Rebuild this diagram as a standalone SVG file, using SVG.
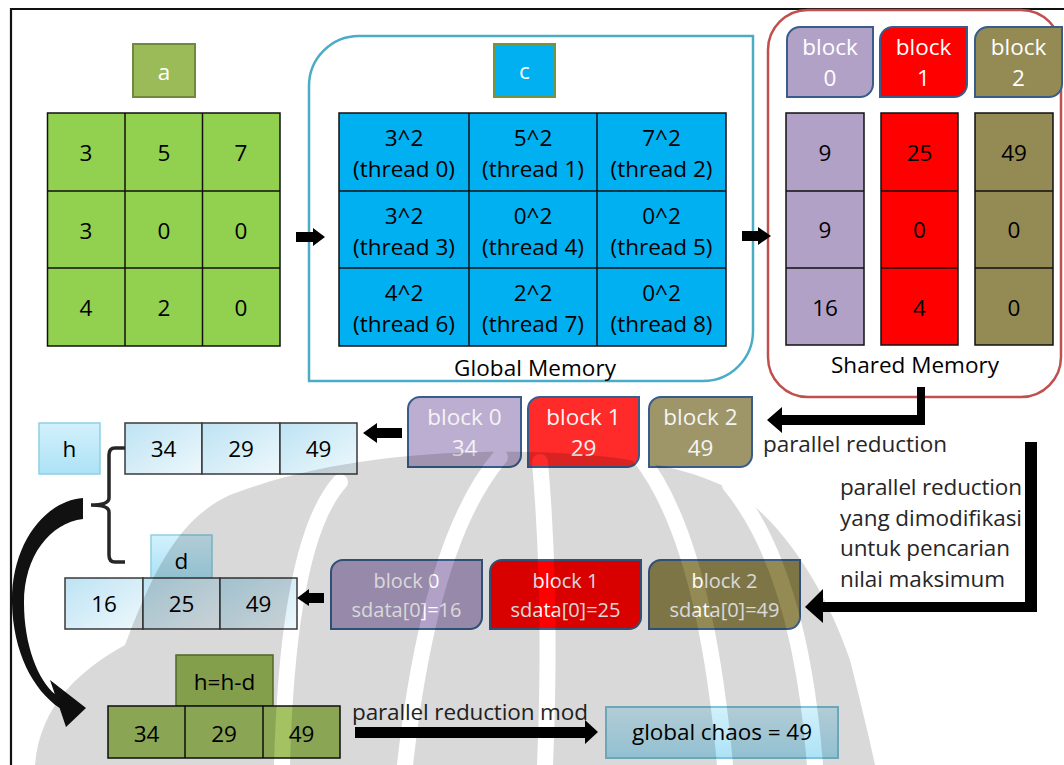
<svg xmlns="http://www.w3.org/2000/svg" width="1064" height="765" viewBox="0 0 1064 765">
  <defs>
    <linearGradient id="ice" x1="0" y1="0" x2="1" y2="1">
      <stop offset="0" stop-color="#bde3f3"/>
      <stop offset="1" stop-color="#eef8fc"/>
    </linearGradient>
    <linearGradient id="iceTag" x1="0" y1="0" x2="0" y2="1">
      <stop offset="0" stop-color="#d2f1fc"/>
      <stop offset="1" stop-color="#ace2f6"/>
    </linearGradient>
    <!-- background emblem: rounded body cut by curved ribs -->
    <mask id="emblem-mask" maskUnits="userSpaceOnUse" x="0" y="0" width="1064" height="765">
      <path d="M35 765 C40 705 80 670 125 645 C150 580 175 520 230 495 C320 460 430 450 530 452 C630 454 700 470 740 495 C790 530 830 600 850 660 C860 700 870 740 875 765 Z" fill="#fff"/>
      <g stroke="#000" stroke-width="16" fill="none" stroke-linecap="round">
        <path d="M540 462 Q552 600 545 765"/>
        <path d="M500 457 Q430 540 405 765"/>
        <path d="M340 482 Q288 540 282 765"/>
        <path d="M640 457 Q705 540 725 765"/>
        <path d="M730 485 Q800 570 815 765"/>
      </g>
    </mask>
  </defs>
  <style>
    .t { font-family: "Open Sans", "Liberation Sans", sans-serif; font-size: 22.5px; fill: #000; }
    .s { font-size: 20px; }
    .m { text-anchor: middle; }
    .w { fill: #fff; }
    .lt { fill: #f4f4f4; }
    .dk { fill: #262626; }
    .grid { stroke: #111; stroke-width: 1.5; }
    .gl { stroke: #111; stroke-width: 1.5; fill: none; }
    .blk { stroke: #385d8a; stroke-width: 2; }
    .ice { fill: url(#ice); stroke: #3a3a3a; stroke-width: 1.5; }
    .tag { fill: url(#iceTag); stroke: #8fcfe6; stroke-width: 1.5; }
    .arrow { fill: #000; }
  </style>

  <rect width="1064" height="765" fill="#fff"/>
  <!-- page frame -->
  <path d="M11 765 V9 H1064" fill="none" stroke="#111" stroke-width="2.2"/>

  <!-- input array a -->
  <g id="label-a">
    <rect x="133" y="44" width="62" height="53" fill="#9bbb59" stroke="#71893f" stroke-width="2"/>
    <text class="t m w" x="164" y="80">a</text>
  </g>
  <g id="array-a">
    <rect class="grid" x="47.5" y="113" width="232.5" height="233" fill="#92d050"/>
    <path class="gl" d="M125 113 V346 M202.5 113 V346 M47.5 191 H280 M47.5 268 H280"/>
    <g class="t m">
      <text x="86" y="161">3</text><text x="164" y="161">5</text><text x="241" y="161">7</text>
      <text x="86" y="239">3</text><text x="164" y="239">0</text><text x="241" y="239">0</text>
      <text x="86" y="316">4</text><text x="164" y="316">2</text><text x="241" y="316">0</text>
    </g>
  </g>

  <!-- global memory -->
  <g id="global-memory">
    <path d="M359 36 H753 V331 A50 50 0 0 1 703 381 H309 V86 A50 50 0 0 1 359 36 Z" fill="none" stroke="#4bacc6" stroke-width="2.5"/>
    <text class="t m" x="535" y="376" textLength="162">Global Memory</text>
  </g>
  <g id="label-c">
    <rect x="494" y="44" width="61" height="53" fill="#00b0f0" stroke="#77933c" stroke-width="2"/>
    <text class="t m w" x="524.5" y="79">c</text>
  </g>
  <g id="array-c">
    <rect class="grid" x="339" y="113" width="387" height="233" fill="#00b0f0"/>
    <path class="gl" d="M469 113 V346 M597 113 V346 M339 191 H726 M339 268 H726"/>
    <g class="t m">
      <text x="404" y="146">3^2</text><text x="404" y="177">(thread 0)</text>
      <text x="533" y="146">5^2</text><text x="533" y="177">(thread 1)</text>
      <text x="661.5" y="146">7^2</text><text x="661.5" y="177">(thread 2)</text>
      <text x="404" y="224">3^2</text><text x="404" y="255">(thread 3)</text>
      <text x="533" y="224">0^2</text><text x="533" y="255">(thread 4)</text>
      <text x="661.5" y="224">0^2</text><text x="661.5" y="255">(thread 5)</text>
      <text x="404" y="301">4^2</text><text x="404" y="332">(thread 6)</text>
      <text x="533" y="301">2^2</text><text x="533" y="332">(thread 7)</text>
      <text x="661.5" y="301">0^2</text><text x="661.5" y="332">(thread 8)</text>
    </g>
  </g>

  <!-- shared memory -->
  <g id="shared-memory">
    <rect x="768" y="10" width="293" height="387" rx="40" fill="none" stroke="#c0504d" stroke-width="2.5"/>
    <text class="t m" x="915" y="373" textLength="168">Shared Memory</text>
  </g>
  <g id="block-0">
    <path class="blk" d="M800 27 H873 V84 A13 13 0 0 1 860 97 H787 V40 A13 13 0 0 1 800 27 Z" fill="#b2a1c7"/>
    <text class="t m w" x="830" y="55">block</text>
    <text class="t m w" x="830" y="86">0</text>
    <rect class="grid" x="786" y="113" width="78" height="232" fill="#b2a1c7"/>
    <path class="gl" d="M786 191 H864 M786 268 H864"/>
    <text class="t m" x="825" y="161">9</text>
    <text class="t m" x="825" y="238">9</text>
    <text class="t m" x="825" y="316">16</text>
  </g>
  <g id="block-1">
    <path class="blk" d="M893 27 H967 V84 A13 13 0 0 1 954 97 H880 V40 A13 13 0 0 1 893 27 Z" fill="#ff0000"/>
    <text class="t m w" x="923.5" y="55">block</text>
    <text class="t m w" x="923.5" y="86">1</text>
    <rect class="grid" x="881" y="113" width="77" height="232" fill="#ff0000"/>
    <path class="gl" d="M881 191 H958 M881 268 H958"/>
    <text class="t m" x="919.5" y="161">25</text>
    <text class="t m" x="919.5" y="238">0</text>
    <text class="t m" x="919.5" y="316">4</text>
  </g>
  <g id="block-2">
    <path class="blk" d="M988 27 H1062 V84 A13 13 0 0 1 1049 97 H975 V40 A13 13 0 0 1 988 27 Z" fill="#948a54"/>
    <text class="t m w" x="1018.5" y="55">block</text>
    <text class="t m w" x="1018.5" y="86">2</text>
    <rect class="grid" x="975" y="113" width="78" height="232" fill="#948a54"/>
    <path class="gl" d="M975 191 H1053 M975 268 H1053"/>
    <text class="t m" x="1014" y="161">49</text>
    <text class="t m" x="1014" y="238">0</text>
    <text class="t m" x="1014" y="316">0</text>
  </g>

  <!-- per-block partial sums -->
  <g id="sum-block-0">
    <path class="blk" d="M420 397 H521 V455 A12 12 0 0 1 509 467 H408 V409 A12 12 0 0 1 420 397 Z" fill="#bcaed0"/>
    <text class="t m lt" x="464.5" y="425">block 0</text>
    <text class="t m lt" x="464.5" y="456">34</text>
  </g>
  <g id="sum-block-1">
    <path class="blk" d="M540 397 H639 V455 A12 12 0 0 1 627 467 H528 V409 A12 12 0 0 1 540 397 Z" fill="#ff2a2a"/>
    <text class="t m lt" x="583.5" y="425">block 1</text>
    <text class="t m lt" x="583.5" y="456">29</text>
  </g>
  <g id="sum-block-2">
    <path class="blk" d="M661 397 H752 V455 A12 12 0 0 1 740 467 H649 V409 A12 12 0 0 1 661 397 Z" fill="#9e9568"/>
    <text class="t m lt" x="700.5" y="425">block 2</text>
    <text class="t m lt" x="700.5" y="456">49</text>
  </g>

  <!-- array h -->
  <g id="label-h">
    <rect class="tag" x="39" y="423" width="61" height="51"/>
    <text class="t m" x="69.5" y="457">h</text>
  </g>
  <g id="array-h">
    <rect class="ice" x="125" y="423" width="77" height="51"/>
    <rect class="ice" x="202" y="423" width="78" height="51"/>
    <rect class="ice" x="280" y="423" width="77" height="51"/>
    <text class="t m" x="163.5" y="457">34</text>
    <text class="t m" x="241" y="457">29</text>
    <text class="t m" x="318.5" y="457">49</text>
  </g>

  <!-- per-block maxima -->
  <g id="max-block-0">
    <path class="blk" d="M343 560 H482 V617 A12 12 0 0 1 470 629 H331 V572 A12 12 0 0 1 343 560 Z" fill="#b2a1c7"/>
    <text class="t s m w" x="406.5" y="588">block 0</text>
    <text class="t s m w" x="406.5" y="617">sdata[0]=16</text>
  </g>
  <g id="max-block-1">
    <path class="blk" d="M502 560 H641 V617 A12 12 0 0 1 629 629 H490 V572 A12 12 0 0 1 502 560 Z" fill="#ff0000"/>
    <text class="t s m w" x="565.5" y="588">block 1</text>
    <text class="t s m w" x="565.5" y="617">sdata[0]=25</text>
  </g>
  <g id="max-block-2">
    <path class="blk" d="M661 560 H800 V617 A12 12 0 0 1 788 629 H649 V572 A12 12 0 0 1 661 560 Z" fill="#948a54"/>
    <text class="t s m w" x="724.5" y="588">block 2</text>
    <text class="t s m w" x="724.5" y="617">sdata[0]=49</text>
  </g>

  <!-- array d -->
  <g id="label-d">
    <rect class="tag" x="151" y="535" width="61" height="43"/>
    <text class="t m" x="181.5" y="569">d</text>
  </g>
  <g id="array-d">
    <rect class="ice" x="65" y="578" width="78" height="51"/>
    <rect class="ice" x="143" y="578" width="77" height="51"/>
    <rect class="ice" x="220" y="578" width="77" height="51"/>
    <text class="t m" x="104" y="612">16</text>
    <text class="t m" x="181.5" y="612">25</text>
    <text class="t m" x="258.5" y="612">49</text>
  </g>

  <!-- h = h - d -->
  <g id="label-hd">
    <rect x="176" y="655" width="97" height="51" fill="#9bbb59" stroke="#5f7a2e" stroke-width="1.5"/>
    <text class="t m" x="224.5" y="690">h=h-d</text>
  </g>
  <g id="array-hd">
    <rect class="grid" x="108" y="706" width="232" height="52" fill="#a3c262"/>
    <path class="gl" d="M185 706 V758 M263 706 V758"/>
    <text class="t m" x="146.5" y="742">34</text>
    <text class="t m" x="224" y="742">29</text>
    <text class="t m" x="301.5" y="742">49</text>
  </g>

  <!-- result -->
  <g id="global-chaos">
    <rect x="606" y="707" width="232" height="51" fill="url(#iceTag)" stroke="#7fc4d8" stroke-width="2"/>
    <text class="t m" x="722" y="740" textLength="180">global chaos = 49</text>
  </g>

  <!-- step captions -->
  <g id="captions" class="t dk">
    <text x="763" y="452" textLength="184">parallel reduction</text>
    <text x="840" y="495" textLength="182">parallel reduction</text>
    <text x="840" y="526" textLength="182">yang dimodifikasi</text>
    <text x="840" y="556" textLength="170">untuk pencarian</text>
    <text x="840" y="587" textLength="165">nilai maksimum</text>
    <text x="352" y="720" textLength="236">parallel reduction mod</text>
  </g>

  <!-- connectors -->
  <g id="connectors">
    <polygon class="arrow" points="296,232 313,232 313,228 325,237 313,246 313,242 296,242"/>
    <polygon class="arrow" points="742,231 758,231 758,227 771,236 758,245 758,241 742,241"/>
    <polygon class="arrow" points="917,387 925,387 925,425 782,425 782,433 767,420 782,407 782,415 917,415"/>
    <polygon class="arrow" points="1025,442 1037,442 1037,612 823,612 823,623 805,607 823,589 823,602 1025,602"/>
    <polygon class="arrow" points="402,428 377,428 377,423 363,433 377,443 377,438 402,438"/>
    <polygon class="arrow" points="324,593 309,593 309,589 297,598 309,606 309,603 324,603"/>
    <polygon class="arrow" points="355,727 585,727 585,720 598,732 585,744 585,738 355,738"/>
    <!-- brace grouping h and d -->
    <path d="M125 448 H115 Q109 448 109 455 V498 Q109 505 91 505 Q109 505 109 512 V555 Q109 562 115 562 H125" fill="none" stroke="#262626" stroke-width="3.5"/>
    <!-- curved arrow to h=h-d -->
    <path d="M83 498 C44 501 11 545 12 603 C13 652 33 690 59.6 708 L66 727 L86 708 L50 680 L54.8 694 C38 680 24 645 24 603 C24 556 50 523 83 519 Z" fill="#111"/>
  </g>

  <!-- faint background emblem over the lower half -->
  <rect id="emblem" width="1064" height="765" fill="#000" fill-opacity="0.15" mask="url(#emblem-mask)"/>
</svg>
